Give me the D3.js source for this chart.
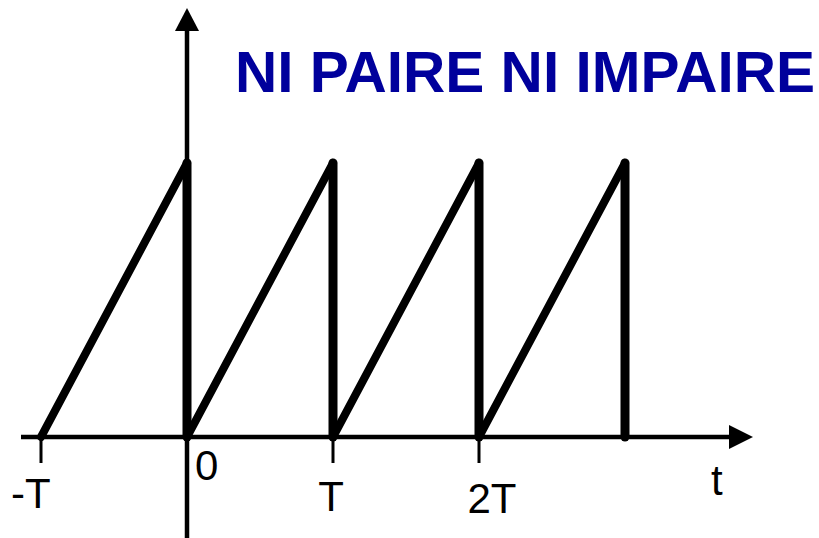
<!DOCTYPE html>
<html>
<head>
<meta charset="utf-8">
<script src="https://cdn.jsdelivr.net/npm/d3@7/dist/d3.min.js"></script>
<style>
  html, body { margin: 0; padding: 0; background: #fff; }
  svg { display: block; }
</style>
</head>
<body>
<svg id="chart" width="819" height="538"></svg>
<script>
// Sawtooth signal: time in periods T, amplitude normalised to 1
const rampStarts = [-1, 0, 1, 2];          // each ramp rises from 0 at t to 1 at t+1
const rampPeaks  = [1, 1, 1, 1];
const dropTimes  = [0, 1, 2, 3];            // vertical fall back to 0
const tickValues = [-1, 0, 1, 2];
const tickLabels = ["-T", "0", "T", "2T"];
const title = "NI PAIRE NI IMPAIRE";

const svg = d3.select("#chart");

const x = d3.scaleLinear().domain([-1, 3]).range([41, 625]);
const y = d3.scaleLinear().domain([0, 1]).range([437, 163]);

const originX = x(0), baseY = y(0);

// horizontal axis with arrow head
svg.append("line")
  .attr("x1", 21).attr("x2", 732).attr("y1", baseY).attr("y2", baseY)
  .attr("stroke", "#000").attr("stroke-width", 4.5);
svg.append("path")
  .attr("d", `M729,${baseY - 12} L753,${baseY} L729,${baseY + 12} Z`)
  .attr("fill", "#000");

// vertical axis with arrow head
svg.append("line")
  .attr("x1", originX).attr("x2", originX).attr("y1", 28).attr("y2", 538)
  .attr("stroke", "#000").attr("stroke-width", 4.5);
svg.append("path")
  .attr("d", `M${originX - 12},31 L${originX},8 L${originX + 12},31 Z`)
  .attr("fill", "#000");

// tick marks below the time axis
svg.selectAll("line.tick")
  .data(tickValues.filter(v => v !== 0))
  .join("line")
  .attr("class", "tick")
  .attr("x1", d => x(d)).attr("x2", d => x(d))
  .attr("y1", baseY).attr("y2", baseY + 26)
  .attr("stroke", "#000").attr("stroke-width", 3);

// ramps
svg.selectAll("line.ramp")
  .data(rampStarts.map((t, i) => ({ t, v: rampPeaks[i] })))
  .join("line")
  .attr("class", "ramp")
  .attr("x1", d => x(d.t)).attr("y1", y(0))
  .attr("x2", d => x(d.t + 1)).attr("y2", d => y(d.v))
  .attr("stroke", "#000").attr("stroke-width", 8)
  .attr("stroke-linecap", "round");

// vertical drops
svg.selectAll("line.drop")
  .data(dropTimes)
  .join("line")
  .attr("class", "drop")
  .attr("x1", d => x(d)).attr("x2", d => x(d))
  .attr("y1", y(1)).attr("y2", y(0))
  .attr("stroke", "#000").attr("stroke-width", 9)
  .attr("stroke-linecap", "round");

// tick labels
const font = "Liberation Sans, Arial, sans-serif";
const labelPos = {
  "-T": { dx: -30, y: 508, anchor: "start" },
  "0":  { dx: 8,   y: 480, anchor: "start" },
  "T":  { dx: -2,  y: 511, anchor: "middle" },
  "2T": { dx: 13,  y: 513, anchor: "middle" }
};
svg.selectAll("text.tl")
  .data(tickValues.map((v, i) => ({ v, label: tickLabels[i] })))
  .join("text")
  .attr("class", "tl")
  .attr("x", d => x(d.v) + labelPos[d.label].dx)
  .attr("y", d => labelPos[d.label].y)
  .attr("text-anchor", d => labelPos[d.label].anchor)
  .attr("font-family", font).attr("font-size", 42)
  .attr("fill", "#000")
  .text(d => d.label);

// axis name
svg.append("text")
  .attr("x", 711).attr("y", 495)
  .attr("font-family", font).attr("font-size", 42)
  .attr("fill", "#000")
  .text("t");

// title
svg.append("text")
  .attr("x", 235).attr("y", 92)
  .attr("font-family", font).attr("font-weight", "bold")
  .attr("font-size", 58)
  .attr("textLength", 580).attr("lengthAdjust", "spacingAndGlyphs")
  .attr("fill", "#00009c")
  .text(title);
</script>
</body>
</html>
